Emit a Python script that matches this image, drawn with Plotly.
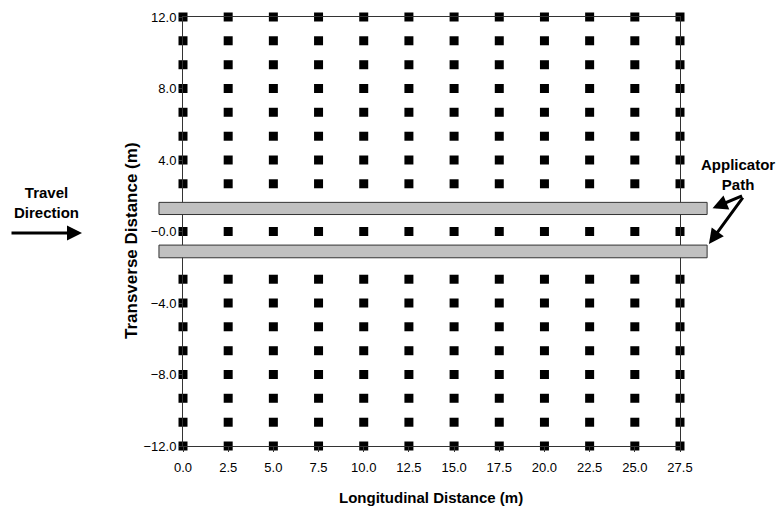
import plotly.graph_objects as go

# Grid of sampling points
x_positions = [0.0, 2.5, 5.0, 7.5, 10.0, 12.5, 15.0, 17.5, 20.0, 22.5, 25.0, 27.5]
y_positions = [12.0, 10.67, 9.33, 8.0, 6.67, 5.33, 4.0, 2.67, 0.0,
               -2.67, -4.0, -5.33, -6.67, -8.0, -9.33, -10.67, -12.0]

x_tick_vals = [0.0, 2.5, 5.0, 7.5, 10.0, 12.5, 15.0, 17.5, 20.0, 22.5, 25.0, 27.5]
x_tick_text = ["0.0", "2.5", "5.0", "7.5", "10.0", "12.5", "15.0", "17.5", "20.0", "22.5", "25.0", "27.5"]
y_tick_vals = [12.0, 8.0, 4.0, 0.0, -4.0, -8.0, -12.0]
y_tick_text = ["12.0", "8.0", "4.0", "\u22120.0", "\u22124.0", "\u22128.0", "\u221212.0"]

x_title = "Longitudinal Distance (m)"
y_title = "Transverse Distance (m)"

# Applicator paths (gray bars)
path_x_start = [-1.33, -1.33]
path_x_end = [29.0, 29.0]
path_y_low = [0.95, -1.47]
path_y_high = [1.63, -0.76]

# Layout geometry (page pixels; the page body adds an 8px offset)
OFF = 8
W, H = 784 - OFF, 506 - OFF
ML, MR, MT, MB = 150 - OFF, 64, 17 - OFF, 60
plot_w = W - ML - MR
plot_h = H - MT - MB
X0_PIX, X1_PIX = 183 - OFF, 680 - OFF      # x=0 and x=27.5
px_per_m = (X1_PIX - X0_PIX) / 27.5
dom0 = (X0_PIX - ML) / plot_w
dom1 = (X1_PIX - ML) / plot_w
x2_range = [(ML - X0_PIX) / px_per_m, (W - MR - X0_PIX) / px_per_m]


def paper_x(ref_px):
    return (ref_px - OFF - ML) / plot_w


def paper_y(ref_py):
    return (H - MB - (ref_py - OFF)) / plot_h


px, py = [], []
for yv in y_positions:
    for xv in x_positions:
        px.append(xv)
        py.append(yv)

fig = go.Figure()
# invisible helper trace on the wide x-axis (carries the applicator bars)
fig.add_trace(go.Scatter(x=[x2_range[0]], y=[0], xaxis="x2", yaxis="y", mode="markers",
                         marker=dict(opacity=0), showlegend=False, hoverinfo="skip"))
fig.add_trace(go.Scatter(
    x=px, y=py, mode="markers",
    marker=dict(symbol="square", size=9, color="black"),
    cliponaxis=False, showlegend=False, hoverinfo="skip"))

for x0, x1, y0, y1 in zip(path_x_start, path_x_end, path_y_low, path_y_high):
    fig.add_shape(type="rect", xref="x2", yref="y", x0=x0, x1=x1, y0=y0, y1=y1,
                  fillcolor="#c0c0c0", line=dict(color="#333333", width=1), layer="above")

fig.update_layout(
    template="none",
    width=W, height=H,
    margin=dict(l=ML, r=MR, t=MT, b=MB, autoexpand=False),
    paper_bgcolor="white", plot_bgcolor="rgba(0,0,0,0)",
    font=dict(family="Liberation Sans, Arial, sans-serif", size=13, color="black"),
    xaxis=dict(domain=[dom0, dom1], range=[0, 27.5], tickvals=x_tick_vals, ticktext=x_tick_text,
               showgrid=False, zeroline=False, showline=True, mirror=True, automargin=False,
               linecolor="#333333", linewidth=1, ticks="outside", ticklen=5,
               tickcolor="#333333", ticklabelstandoff=4),
    xaxis2=dict(domain=[0, 1], range=x2_range, anchor="y", visible=False,
                showgrid=False, zeroline=False),
    yaxis=dict(range=[-12, 12], tickvals=y_tick_vals, ticktext=y_tick_text, anchor="x",
               showgrid=False, zeroline=False, showline=True, mirror=True, automargin=False,
               linecolor="#333333", linewidth=1, ticks="outside", ticklen=3,
               tickcolor="#333333"),
    showlegend=False,
)

# Axis titles
fig.add_annotation(xref="paper", yref="paper", x=paper_x(431), y=paper_y(497),
                   text="<b>" + x_title + "</b>", showarrow=False,
                   font=dict(size=15), xanchor="center", yanchor="middle")
fig.add_annotation(xref="paper", yref="paper", x=paper_x(131), y=paper_y(241),
                   text="<b>" + y_title + "</b>", showarrow=False, textangle=-90,
                   font=dict(size=17), xanchor="center", yanchor="middle")

# Travel direction label and arrow
fig.add_annotation(xref="paper", yref="paper", x=paper_x(46), y=paper_y(202),
                   text="<b>Travel<br>Direction</b>", showarrow=False,
                   font=dict(size=15), xanchor="center", yanchor="middle")
fig.add_annotation(xref="paper", yref="paper", x=paper_x(82), y=paper_y(233),
                   ax=-72, ay=0,
                   text="", showarrow=True, arrowhead=2, arrowsize=1.0, arrowwidth=3,
                   arrowcolor="black")

# Applicator path label and arrows
fig.add_annotation(xref="paper", yref="paper", x=paper_x(738), y=paper_y(174),
                   text="<b>Applicator<br>Path</b>", showarrow=False,
                   font=dict(size=15), xanchor="center", yanchor="middle")
fig.add_annotation(xref="x2", yref="y", x=29.3, y=1.3,
                   ax=743 - 712, ay=195 - 208,
                   text="", showarrow=True, arrowhead=2, arrowsize=1.0, arrowwidth=3,
                   arrowcolor="black")
fig.add_annotation(xref="x2", yref="y", x=29.1, y=-0.7,
                   ax=743 - 708, ay=195 - 243,
                   text="", showarrow=True, arrowhead=2, arrowsize=1.0, arrowwidth=3,
                   arrowcolor="black")

fig.write_html("out.html")
